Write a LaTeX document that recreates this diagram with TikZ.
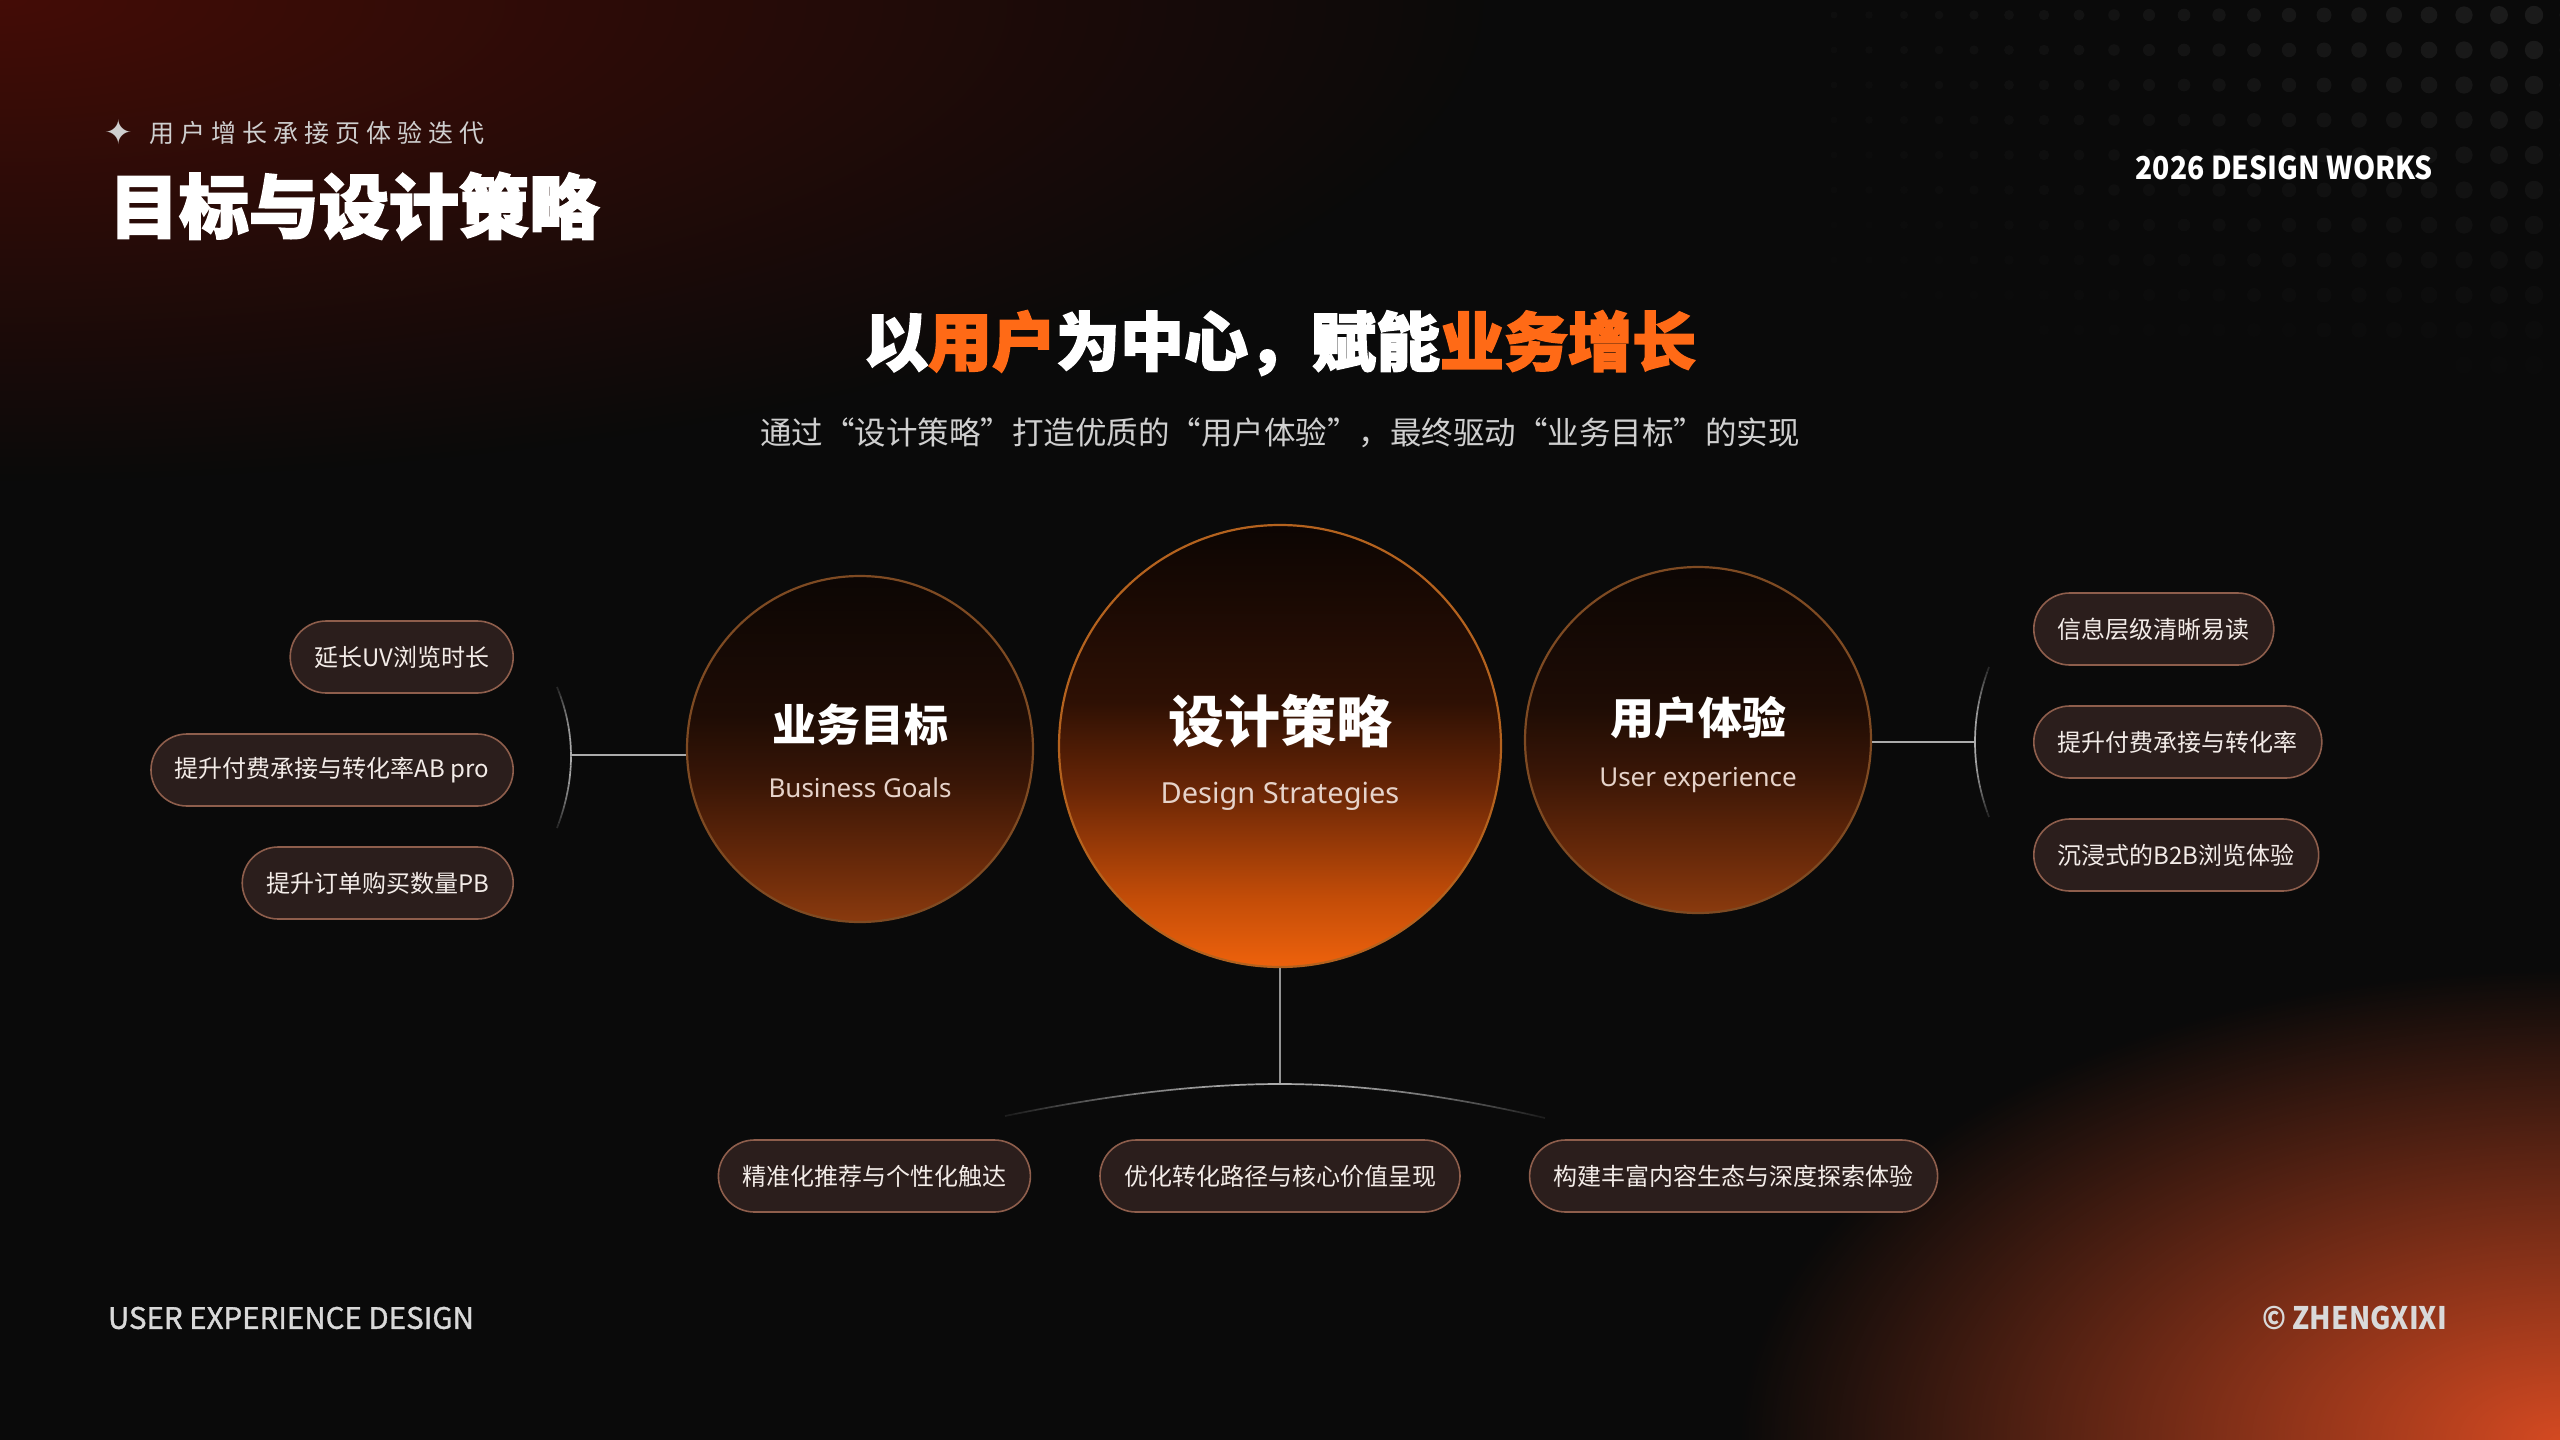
\documentclass[tikz,border=0pt]{standalone}
\usepackage{fontspec}
\setmainfont{Noto Sans}
\newfontfamily\cjk{Noto Sans CJK SC}
\newfontfamily\cjkheavy{Noto Sans CJK SC}[BoldFeatures={FakeBold=2.5}]
\newfontfamily\cjkspaced{Noto Sans CJK SC}[LetterSpace=24]
\newfontfamily\cjknarrow{Noto Sans CJK SC}[FakeStretch=0.9]
\newfontfamily\cjkmed{Noto Sans CJK SC}[FakeBold=1.2]
\newfontfamily\symfont{DejaVu Sans}
\usetikzlibrary{fadings,calc}

\definecolor{bg}{HTML}{0A0A0A}
\definecolor{glowTL}{HTML}{440D06}
\definecolor{glowBR}{HTML}{D44A22}
\definecolor{accent}{HTML}{FF6A16}
\definecolor{pillfill}{HTML}{2B1E1C}
\definecolor{pillline}{HTML}{8E5E4C}
\definecolor{pilltext}{HTML}{F3ECE8}
\definecolor{subgray}{HTML}{CFCFCF}
\definecolor{engtext}{HTML}{E6D3CA}
\definecolor{conncol}{HTML}{ABABAB}
\definecolor{footgray}{HTML}{D9D9D9}
\definecolor{obB}{HTML}{EE620C}
\definecolor{obMa}{HTML}{C24C08}
\definecolor{obMb}{HTML}{6A2606}
\definecolor{obMc}{HTML}{2E1004}
\definecolor{obT}{HTML}{0C0503}
\definecolor{osB}{HTML}{8A3A0E}
\definecolor{osMa}{HTML}{6A2A0A}
\definecolor{osMb}{HTML}{3A1606}
\definecolor{osMc}{HTML}{1E0C05}
\definecolor{osT}{HTML}{0C0604}
\definecolor{ringbig}{HTML}{B4621E}
\definecolor{ringsmall}{HTML}{7E4A22}

\pgfdeclareverticalshading{orbbig}{100bp}{color(0bp)=(obB); color(25bp)=(obB); color(33bp)=(obMa); color(45bp)=(obMb); color(55bp)=(obMc); color(75bp)=(obT); color(100bp)=(obT)}
\pgfdeclareverticalshading{orbsmall}{100bp}{color(0bp)=(osB); color(25bp)=(osB); color(33bp)=(osMa); color(45bp)=(osMb); color(55bp)=(osMc); color(75bp)=(osT); color(100bp)=(osT)}

\tikzfading[name=glowfade, inner color=transparent!0, outer color=transparent!100]

\tikzset{
  pill/.style={draw=pillline, fill=pillfill, line width=1.6pt, rounded corners=36pt,
    minimum height=72pt, inner xsep=24pt, inner ysep=0pt, text=pilltext,
    font=\cjk\fontsize{24}{28}\selectfont},
  orbbigstyle/.style={circle, inner sep=0pt, minimum size=442pt, shade, shading=orbbig, draw=ringbig, line width=2.2pt},
  orbsmallstyle/.style={circle, inner sep=0pt, minimum size=346pt, shade, shading=orbsmall, draw=ringsmall, line width=2.2pt},
  conn/.style={draw=conncol, line width=1.7pt},
  plain/.style={inner sep=0pt, outer sep=0pt}
}

% quadratic curve from #1 via control #2 to #3, drawn in pieces whose opacity is the expression #4 of \tt
\newcommand\fadecurve[4]{%
  \foreach \k in {0,...,29}{%
    \pgfmathsetmacro{\ta}{\k/30}%
    \pgfmathsetmacro{\tb}{(\k+1)/30}%
    \pgfmathsetmacro{\tt}{(\k+0.5)/30}%
    \pgfmathsetmacro{\op}{#4}%
    \draw[conn, draw opacity=\op] ($($(#1)!\ta!(#2)$)!\ta!($(#2)!\ta!(#3)$)$) -- ($($(#1)!\tb!(#2)$)!\tb!($(#2)!\tb!(#3)$)$);%
  }%
}

\begin{document}
\begin{tikzpicture}[x=1pt, y=-1pt]
\useasboundingbox (0,0) rectangle (2560,1440);
\fill[bg] (0,0) rectangle (2560,1440);

% background glows
\begin{scope}
  \clip (0,0) rectangle (2560,1440);
  \fill[glowTL, path fading=glowfade] (0,0) ellipse (1500 and 480);
  \fill[glowBR, path fading=glowfade] (2560,1440) ellipse (820 and 470);
  % dot grid top right
  \foreach \i in {0,...,21}{
    \foreach \j in {0,...,10}{
      \pgfmathsetmacro{\rr}{3.5+6*\i/21}
      \pgfmathsetmacro{\op}{max(0,0.075*(0.25+0.75*\i/21)*(1-\j/11))}
      \fill[white, fill opacity=\op] (1834+35*\i,15+35*\j) circle (\rr);
    }
  }
\end{scope}

% header
\node[plain, text=subgray] (spark) at (119,132) {\symfont\fontsize{34}{36}\selectfont ✦};
\node[plain, anchor=west, text=subgray] (kicker) at (149,133) {\cjkspaced\fontsize{25}{28}\selectfont 用户增长承接页体验迭代};
\node[plain, anchor=west, text=white] (title) at (109,206) {\cjkheavy\bfseries\fontsize{70}{76}\selectfont 目标与设计策略};
\node[plain, anchor=east, text=white] (works) at (2433,168) {\cjknarrow\bfseries\fontsize{31.5}{36}\selectfont 2026 DESIGN WORKS};

% headline
\node[plain, text=white] (headline) at (1280,343) {\cjkheavy\bfseries\fontsize{64}{70}\selectfont 以\textcolor{accent}{用户}为中心，赋能\textcolor{accent}{业务增长}};
\node[plain, text=subgray] (subline) at (1280,433) {\cjk\fontsize{31.5}{35}\selectfont 通过“设计策略”打造优质的“用户体验”，最终驱动“业务目标”的实现};

% orbs
\node[orbsmallstyle] (bg) at (860,749) {};
\node[orbbigstyle] (ds) at (1280,746) {};
\node[orbsmallstyle] (ux) at (1698,740) {};

\node[plain, text=white] (bgzh) at (860,725) {\cjk\bfseries\fontsize{44}{48}\selectfont 业务目标};
\node[plain, text=engtext] (bgen) at (860,788) {\fontsize{26}{30}\selectfont Business Goals};
\node[plain, text=white] (dszh) at (1280,721) {\cjk\bfseries\fontsize{56}{60}\selectfont 设计策略};
\node[plain, text=engtext] (dsen) at (1280,796) {\fontsize{29}{32}\selectfont Design Strategies};
\node[plain, text=white] (uxzh) at (1698,718) {\cjk\bfseries\fontsize{44}{48}\selectfont 用户体验};
\node[plain, text=engtext] (uxen) at (1698,780) {\fontsize{26}{30}\selectfont User experience};

% left pills
\node[pill, anchor=east] (l1) at (514,657) {延长UV浏览时长};
\node[pill, anchor=east] (l2) at (514,770) {提升付费承接与转化率AB pro};
\node[pill, anchor=east] (l3) at (514,883) {提升订单购买数量PB};

% right pills
\node[pill, anchor=west] (r1) at (2033,629) {信息层级清晰易读};
\node[pill, anchor=west] (r2) at (2033,742) {提升付费承接与转化率};
\node[pill, anchor=west] (r3) at (2033,855) {沉浸式的B2B浏览体验};

% bottom pills
\node[pill] (b2) at (1280,1176) {优化转化路径与核心价值呈现};
\node[pill, anchor=east] (b1) at ([xshift=-68pt]b2.west) {精准化推荐与个性化触达};
\node[pill, anchor=west] (b3) at ([xshift=68pt]b2.east) {构建丰富内容生态与深度探索体验};

% connectors left
\coordinate (la1) at (557,687);
\coordinate (lac) at (585,755);
\coordinate (la2) at (557,828);
\coordinate (la) at (571,755);
\fadecurve{la1}{lac}{la2}{0.15+0.85*sin(180*\tt)}
\draw[conn] (la) -- (la -| bg.west);

% connectors right
\coordinate (ra1) at (1989,667);
\coordinate (rac) at (1961,742);
\coordinate (ra2) at (1989,817);
\coordinate (ra) at (1975,742);
\fadecurve{ra1}{rac}{ra2}{0.15+0.85*sin(180*\tt)}
\draw[conn] (ra -| ux.east) -- (ra);

% connectors bottom
\coordinate (bl) at (1005,1116);
\coordinate (blc) at (1160,1084);
\coordinate (bt) at (1280,1084);
\coordinate (brc) at (1400,1084);
\coordinate (br) at (1545,1118);
\fadecurve{bl}{blc}{bt}{0.1+0.9*sin(90*\tt)}
\fadecurve{bt}{brc}{br}{0.1+0.9*cos(90*\tt)}
\draw[conn, draw opacity=0.85] (ds.south) -- (bt);

% footer
\node[plain, anchor=west, text=footgray] (foot1) at (108,1318) {\cjkmed\fontsize{29.5}{34}\selectfont USER EXPERIENCE DESIGN};
\node[plain, anchor=east, text=footgray] (foot2) at (2447,1318) {\cjknarrow\bfseries\fontsize{31}{34}\selectfont © ZHENGXIXI};
\end{tikzpicture}
\end{document}
